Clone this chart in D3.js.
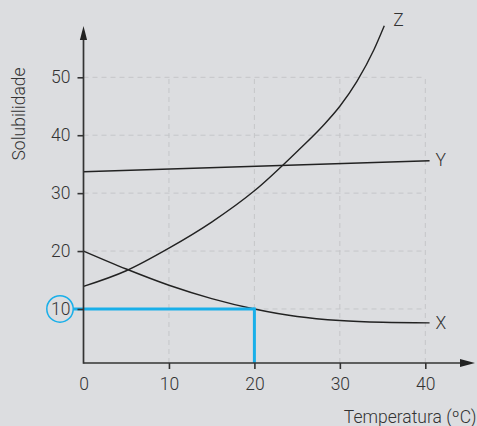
<!DOCTYPE html>
<html>
<head>
<meta charset="utf-8">
<script src="https://cdn.jsdelivr.net/npm/d3@7"></script>
<style>
  html, body { margin: 0; padding: 0; background: #dcdde0; }
  svg { display: block; }
  text { font-family: "Roboto", "Liberation Sans", sans-serif; font-weight: 300; fill: #333; }
</style>
</head>
<body>
<svg id="chart" width="477" height="426"></svg>
<script>
// Temperature (ºC) and solubility readings for the three substances
const tempTicks = [10, 20, 30, 40];
const solTicks = [10, 20, 30, 40, 50];

const xTemps = [0, 5, 10, 15, 20, 25, 30, 35, 40.5];
const xSol   = [20, 16.9, 14.1, 11.8, 10.0, 8.7, 8.0, 7.7, 7.6];

const yTemps = [0, 40.5];
const ySol   = [33.7, 35.6];

const zTemps = [0, 5, 10, 15, 20, 25, 28, 30, 32, 34, 35.2];
const zSol   = [13.9, 16.6, 20.5, 25.0, 30.4, 37.2, 41.6, 45.0, 49.3, 54.8, 58.9];

const seriesNames = ["X", "Y", "Z"];

// Highlighted reading: solubility 10 at 20 ºC
const markTemp = 20;
const markSol = 10;

const svg = d3.select("#chart");

const x = d3.scaleLinear().domain([0, 40]).range([83.5, 425.3]);
const y = d3.scaleLinear().domain([0, 50]).range([366.9, 77.3]);
const baseline = 363;       // horizontal axis line
const axisColor = "#333";
const blue = "#19afe9";

// dashed grid
const grid = svg.append("g")
  .attr("stroke", "#c5c6c9")
  .attr("stroke-width", 1)
  .attr("stroke-dasharray", "5,4");
grid.selectAll("line.h").data(solTicks).join("line")
  .attr("x1", x(0)).attr("x2", x(40))
  .attr("y1", d => y(d)).attr("y2", d => y(d));
grid.selectAll("line.v").data(tempTicks).join("line")
  .attr("x1", d => x(d)).attr("x2", d => x(d))
  .attr("y1", baseline).attr("y2", y(50));

// curves
const seriesData = {
  X: xTemps.map((t, i) => [t, xSol[i]]),
  Y: yTemps.map((t, i) => [t, ySol[i]]),
  Z: zTemps.map((t, i) => [t, zSol[i]])
};
const labelOffset = { X: [6, 6], Y: [6, 5], Z: [9, 0.5] };
const line = d3.line()
  .x(d => x(d[0])).y(d => y(d[1]))
  .curve(d3.curveMonotoneX);

seriesNames.forEach(name => {
  const pts = seriesData[name];
  svg.append("path")
    .attr("d", line(pts))
    .attr("fill", "none")
    .attr("stroke", "#222")
    .attr("stroke-width", 1.4);
  const last = pts[pts.length - 1];
  svg.append("text")
    .attr("x", x(last[0]) + labelOffset[name][0])
    .attr("y", y(last[1]) + labelOffset[name][1])
    .attr("font-size", 17.5)
    .text(name);
});

// highlight lines
svg.append("line")
  .attr("x1", 73).attr("x2", x(markTemp))
  .attr("y1", y(markSol)).attr("y2", y(markSol))
  .attr("stroke", blue).attr("stroke-width", 3);
svg.append("line")
  .attr("x1", x(markTemp)).attr("x2", x(markTemp))
  .attr("y1", y(markSol) - 1.5).attr("y2", baseline)
  .attr("stroke", blue).attr("stroke-width", 3);

// axes
const yAxis = d3.axisLeft(y).tickValues(solTicks).tickSize(6).tickPadding(7);
const gy = svg.append("g").attr("transform", `translate(${x(0)},0)`).call(yAxis);
gy.select(".domain").remove();
gy.selectAll(".tick line").attr("stroke", axisColor).attr("stroke-width", 1.6);
gy.selectAll(".tick text")
  .attr("font-size", 17.5).attr("font-family", null).attr("fill", "#333");

const xAxis = d3.axisBottom(x).tickValues([0].concat(tempTicks)).tickSize(6).tickPadding(9);
const gx = svg.append("g").attr("transform", `translate(0,${baseline})`).call(xAxis);
gx.select(".domain").remove();
gx.selectAll(".tick line").attr("stroke", axisColor).attr("stroke-width", 1.6)
  .attr("y2", d => d === 0 ? 0 : 6);
gx.selectAll(".tick text")
  .attr("font-size", 17.5).attr("font-family", null).attr("fill", "#333");

// axis lines with arrows
svg.append("line")
  .attr("x1", x(0)).attr("x2", x(0))
  .attr("y1", baseline + 0.8).attr("y2", 38)
  .attr("stroke", axisColor).attr("stroke-width", 1.7);
svg.append("path")
  .attr("d", `M${x(0)},26 L${x(0) - 3.6},40 L${x(0) + 3.6},40 Z`)
  .attr("fill", "#222");
svg.append("line")
  .attr("x1", x(0)).attr("x2", 462)
  .attr("y1", baseline).attr("y2", baseline)
  .attr("stroke", axisColor).attr("stroke-width", 1.7);
svg.append("path")
  .attr("d", `M475,${baseline} L460,${baseline - 4} L460,${baseline + 4} Z`)
  .attr("fill", "#222");

// circled value on the solubility axis
svg.append("circle")
  .attr("cx", 60).attr("cy", y(markSol)).attr("r", 13.2)
  .attr("fill", "none").attr("stroke", blue).attr("stroke-width", 1.5);

// axis titles
svg.append("text")
  .attr("transform", "translate(25,114) rotate(-90)")
  .attr("text-anchor", "middle")
  .attr("font-size", 17.5)
  .text("Solubilidade");
svg.append("text")
  .attr("x", 476.5).attr("y", 423)
  .attr("text-anchor", "end")
  .attr("font-size", 17.5)
  .text("Temperatura (ºC)");
</script>
</body>
</html>
